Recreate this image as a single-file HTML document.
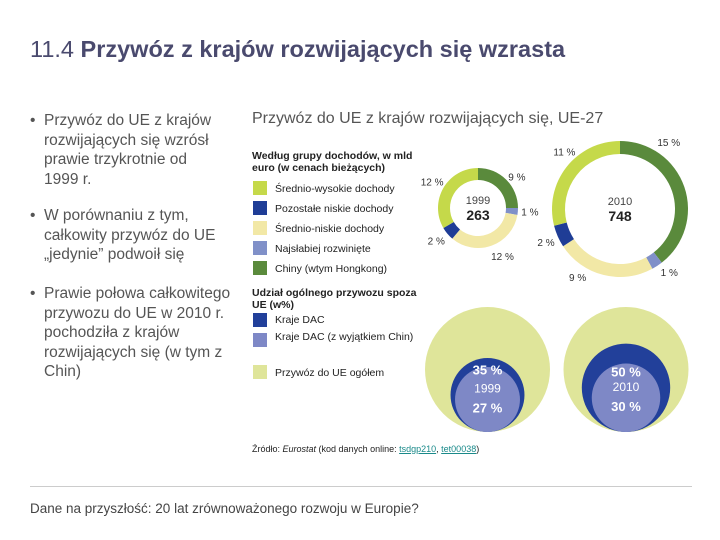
<!DOCTYPE html>
<html><head><meta charset="utf-8"><style>
body{margin:0;width:720px;height:540px;background:#fff;font-family:"Liberation Sans",sans-serif;position:relative;overflow:hidden}
.a{position:absolute;white-space:nowrap}
.b{position:absolute;left:44px;font-size:15.5px;line-height:19.5px;color:#555}
.b:before{content:"•";position:absolute;left:-14px}
.lg{font-size:10.5px;color:#222}
.sw{position:absolute;width:14px;height:14px}
</style></head><body>
<div class="a" style="left:30px;top:36px;font-size:23.5px;color:#4a4a6e">11.4 <b>Przywóz z krajów rozwijających się wzrasta</b></div>
<div class="b" style="top:111px">Przywóz do UE z krajów<br>rozwijających się wzrósł<br>prawie trzykrotnie od<br>1999 r.</div>
<div class="b" style="top:206px">W porównaniu z tym,<br>całkowity przywóz do UE<br>„jedynie” podwoił się</div>
<div class="b" style="top:284px">Prawie połowa całkowitego<br>przywozu do UE w 2010 r.<br>pochodziła z krajów<br>rozwijających się (w tym z<br>Chin)</div>
<div class="a" style="left:252px;top:110px;font-size:16px;color:#555">Przywóz do UE z krajów rozwijających się, UE-27</div>
<div class="a lg" style="left:252px;top:150px;font-weight:bold;line-height:12px">Według grupy dochodów, w mld<br>euro (w cenach bieżących)</div>
<div id="legend1"></div>
<div class="a lg" style="left:252px;top:287px;font-weight:bold;line-height:12px">Udział ogólnego przywozu spoza<br>UE (w%)</div>
<div class="sw" style="left:253px;top:313px;background:#22409a"></div>
<div class="a lg" style="left:275px;top:314px">Kraje DAC</div>
<div class="sw" style="left:253px;top:333px;background:#7e88c6"></div>
<div class="a lg" style="left:275px;top:331px">Kraje DAC (z wyjątkiem Chin)</div>
<div class="sw" style="left:253px;top:365px;background:#dfe59a"></div>
<div class="a lg" style="left:275px;top:367px">Przywóz do UE ogółem</div>
<div class="a" style="left:252px;top:444px;font-size:9px;color:#222">Źródło: <i>Eurostat</i> (kod danych online: <span style="color:#1a8a8a;text-decoration:underline">tsdgp210</span>, <span style="color:#1a8a8a;text-decoration:underline">tet00038</span>)</div>
<div class="a" style="left:30px;top:486px;width:662px;height:1px;background:#ccc"></div>
<div class="a" style="left:30px;top:501px;font-size:13.5px;color:#444">Dane na przyszłość: 20 lat zrównoważonego rozwoju w Europie?</div>
<svg id="ch" width="720" height="540" style="position:absolute;left:0;top:0"></svg>
<script>
const groups=["Chiny (wtym Hongkong)","Najsłabiej rozwinięte","Średnio-niskie dochody","Pozostałe niskie dochody","Średnio-wysokie dochody"];
const colors=["#5a8a3c","#8090c8","#f2e8a6","#1f3d96","#c5d94a"];
const legendOrder=[4,3,2,1,0];
const years=["1999","2010"];
const totals=[263,748];
const shares1999=[9,1,12,2,12];
const shares2010=[15,1,9,2,11];
const dac=[35,50];
const dacEx=[27,30];
const NS="http://www.w3.org/2000/svg";
const svg=document.getElementById("ch");
function mk(t,a){const e=document.createElementNS(NS,t);for(const k in a)e.setAttribute(k,a[k]);svg.appendChild(e);return e;}
const lg=document.getElementById("legend1");
legendOrder.forEach((g,i)=>{
 const s=document.createElement("div");s.className="sw";s.style.left="253px";s.style.top=(181+i*20)+"px";s.style.background=colors[g];
 
 
 lg.appendChild(s);
 const t=document.createElement("div");t.className="a lg";t.style.left="275px";t.style.top=(183+i*20)+"px";t.textContent=groups[g];
 
 
 lg.appendChild(t);
});
function donut(cx,cy,R,r,vals,year,total,labAng,labR){
 const sum=vals.reduce((a,b)=>a+b,0);let a0=0;
 const p=(a,rr)=>[cx+rr*Math.sin(a),cy-rr*Math.cos(a)];
 vals.forEach((v,i)=>{
  const a1=a0+v/sum*2*Math.PI;
  const [x1,y1]=p(a0,R),[x2,y2]=p(a1,R),[x3,y3]=p(a1,r),[x4,y4]=p(a0,r);
  const lf=(a1-a0)>Math.PI?1:0;
  const e=mk("path",{d:`M${x1},${y1}A${R},${R} 0 ${lf} 1 ${x2},${y2}L${x3},${y3}A${r},${r} 0 ${lf} 0 ${x4},${y4}Z`,fill:colors[i]});
  
  
  const [lx,ly]=p(labAng[i]*Math.PI/180,labR[i]);
  const t=mk("text",{x:lx,y:ly+4,"font-size":10,"text-anchor":"middle",fill:"#333","font-family":"Liberation Sans"});t.textContent=v+" %";
  
  
  a0=a1;
 });
 const t1=mk("text",{x:cx,y:cy-4,"font-size":11,"text-anchor":"middle",fill:"#444","font-family":"Liberation Sans"});t1.textContent=year;
 
 
 const t2=mk("text",{x:cx,y:cy+12,"font-size":14,"font-weight":"bold","text-anchor":"middle",fill:"#222","font-family":"Liberation Sans"});t2.textContent=total;
 
 
}
donut(478,208,40,28,shares1999,years[0],totals[0],[51,94,153,232,300],[50,52,54,53,53]);
donut(620,209,68,55,shares2010,years[1],totals[1],[36,142,212,246,316],[83,80,80,81,80]);
function bubble(cx,i){
 const R=62.5,bot=432;
 const c0=mk("circle",{cx:cx,cy:bot-R,r:R,fill:"#dfe59a"});
 
 
 const r1=R*Math.sqrt(dac[i]/100),r2=R*Math.sqrt(dacEx[i]/100);
 const c1=mk("circle",{cx:cx,cy:bot-r1,r:r1,fill:"#22409a"});
 
 
 const c2=mk("circle",{cx:cx,cy:bot-r2,r:r2,fill:"#7e88c6"});
 
 
 const t=mk("text",{x:cx,y:bot-2*r2+(2*r1-2*r2)/2+3,"font-size":13,"font-weight":"bold","text-anchor":"middle",fill:"#fff","font-family":"Liberation Sans"});t.textContent=dac[i]+" %";
 
 
 const ty=mk("text",{x:cx,y:bot-r2-7,"font-size":12,"text-anchor":"middle",fill:"#fff","font-family":"Liberation Sans"});ty.textContent=years[i];
 
 
 const tp=mk("text",{x:cx,y:bot-r2+13,"font-size":13,"font-weight":"bold","text-anchor":"middle",fill:"#fff","font-family":"Liberation Sans"});tp.textContent=dacEx[i]+" %";
 
 
}
bubble(487.5,0);bubble(626,1);
</script>
</body></html>
